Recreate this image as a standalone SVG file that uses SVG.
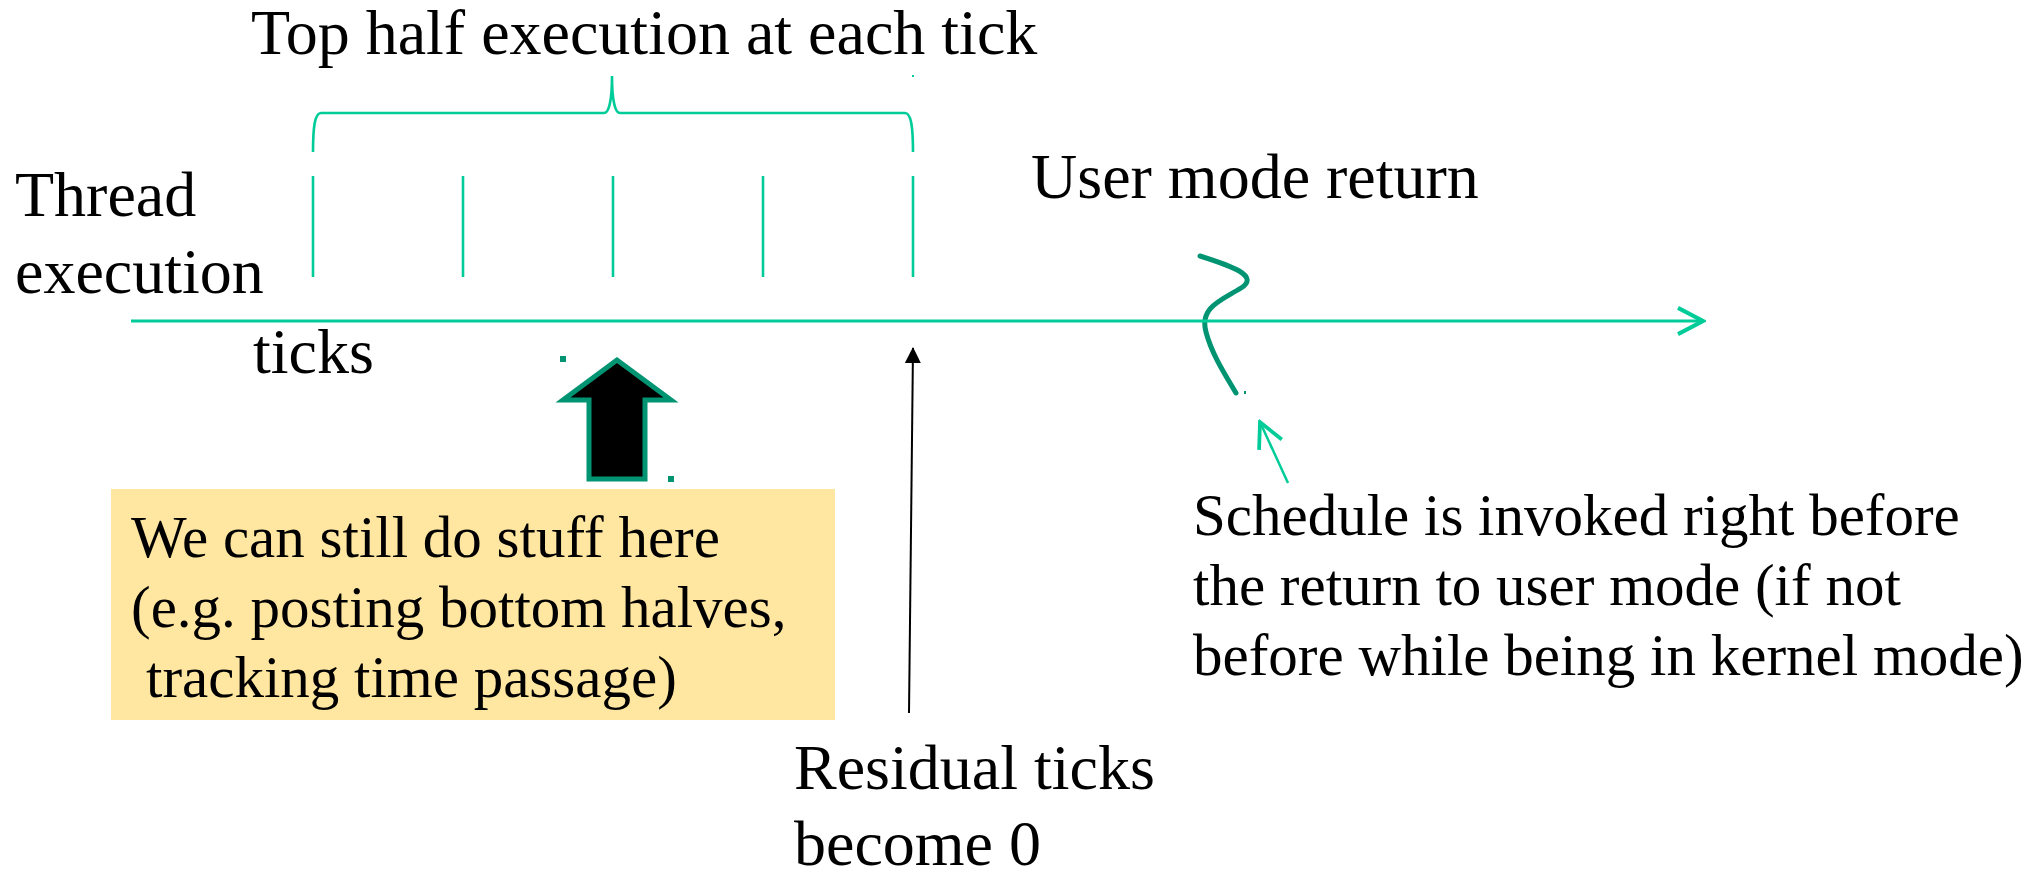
<svg xmlns="http://www.w3.org/2000/svg" width="2034" height="872" viewBox="0 0 2034 872">
  <style>
    .t { font-family: "Liberation Serif", "Times New Roman", serif; fill: #000; }
    .big { font-size: 64px; }
    .mid { font-size: 59px; }
    .mint { fill: none; stroke: #00CC99; stroke-width: 2.6; }
    .dark { fill: none; stroke: #009473; stroke-linecap: round; }
    .dot { fill: #009473; }
  </style>
  <defs>
    <marker id="blackHead" markerWidth="16" markerHeight="18" refX="15" refY="8" orient="auto" markerUnits="userSpaceOnUse" viewBox="0 0 16 16">
      <path d="M0,0 L16,8 L0,16 Z" fill="#000"/>
    </marker>
    <marker id="mintOpen" markerWidth="30" markerHeight="30" refX="22" refY="12" orient="auto" markerUnits="userSpaceOnUse" viewBox="0 0 24 24">
      <path d="M2,1.5 L22,12 L2,22.5" fill="none" stroke="#00CC99" stroke-width="3.2"/>
    </marker>
    <marker id="mintOpenSmall" markerWidth="30" markerHeight="30" refX="22" refY="12" orient="auto" markerUnits="userSpaceOnUse" viewBox="0 0 24 24">
      <path d="M2,2 L22,12 L2,22" fill="none" stroke="#00CC99" stroke-width="3"/>
    </marker>
  </defs>

  <g id="title">
    <text class="t big" x="251" y="54">Top half execution at each tick</text>
  </g>

  <g id="brace">
    <path class="mint" d="M313,152 C313,126 315,113 321,113 L604,113 C609,113 612,100 612,76 C612,100 615,113 620,113 L905,113 C911,113 913,126 913,152"/>
    <rect x="912" y="75" width="2" height="2" fill="#00CC99"/>
  </g>

  <g id="ticks-marks">
    <line class="mint" x1="313" y1="176" x2="313" y2="277"/>
    <line class="mint" x1="463" y1="176" x2="463" y2="277"/>
    <line class="mint" x1="613" y1="176" x2="613" y2="277"/>
    <line class="mint" x1="763" y1="176" x2="763" y2="277"/>
    <line class="mint" x1="913" y1="176" x2="913" y2="277"/>
  </g>

  <g id="thread-label">
    <text class="t big" x="15" y="216">Thread</text>
    <text class="t big" x="15" y="293">execution</text>
  </g>

  <g id="ticks-label">
    <text class="t big" x="253" y="373">ticks</text>
  </g>

  <g id="user-mode-label">
    <text class="t big" x="1031" y="198">User mode return</text>
  </g>

  <g id="squiggle">
    <path class="dark" stroke-width="5" d="M1200,256 C1232,266 1260,276 1241,288 C1222,300 1199,307 1206,332 C1212,355 1226,376 1236,393"/>
    <rect class="dot" x="1244" y="391" width="2" height="3"/>
  </g>

  <g id="block-arrow">
    <polygon points="617,360 563,400 589,400 589,479 645,479 645,400 671,400" fill="#000" stroke="#009473" stroke-width="5" stroke-linejoin="miter"/>
    <rect class="dot" x="560" y="356" width="6" height="6"/>
    <rect class="dot" x="668" y="476" width="6" height="6"/>
  </g>

  <g id="note-box">
    <rect x="111" y="489" width="724" height="231" fill="#FFE6A1"/>
    <text class="t mid" x="131" y="557">We can still do stuff here</text>
    <text class="t mid" x="131" y="627">(e.g. posting bottom halves,</text>
    <text class="t mid" x="146" y="697">tracking time passage)</text>
  </g>

  <g id="residual-label">
    <text class="t big" x="794" y="789">Residual ticks</text>
    <text class="t big" x="794" y="865">become 0</text>
  </g>

  <g id="schedule-label">
    <text class="t mid" x="1193" y="535">Schedule is invoked right before</text>
    <text class="t mid" x="1193" y="605">the return to user mode (if not</text>
    <text class="t mid" x="1193" y="675">before while being in kernel mode)</text>
  </g>

  <g id="connectors">
    <line x1="131" y1="321" x2="1703" y2="321" stroke="#00CC99" stroke-width="3" marker-end="url(#mintOpen)"/>
    <line x1="909" y1="713" x2="913" y2="348" stroke="#000" stroke-width="2" marker-end="url(#blackHead)"/>
    <line x1="1288" y1="483" x2="1260" y2="422" stroke="#00CC99" stroke-width="2.5" marker-end="url(#mintOpenSmall)"/>
  </g>
</svg>
